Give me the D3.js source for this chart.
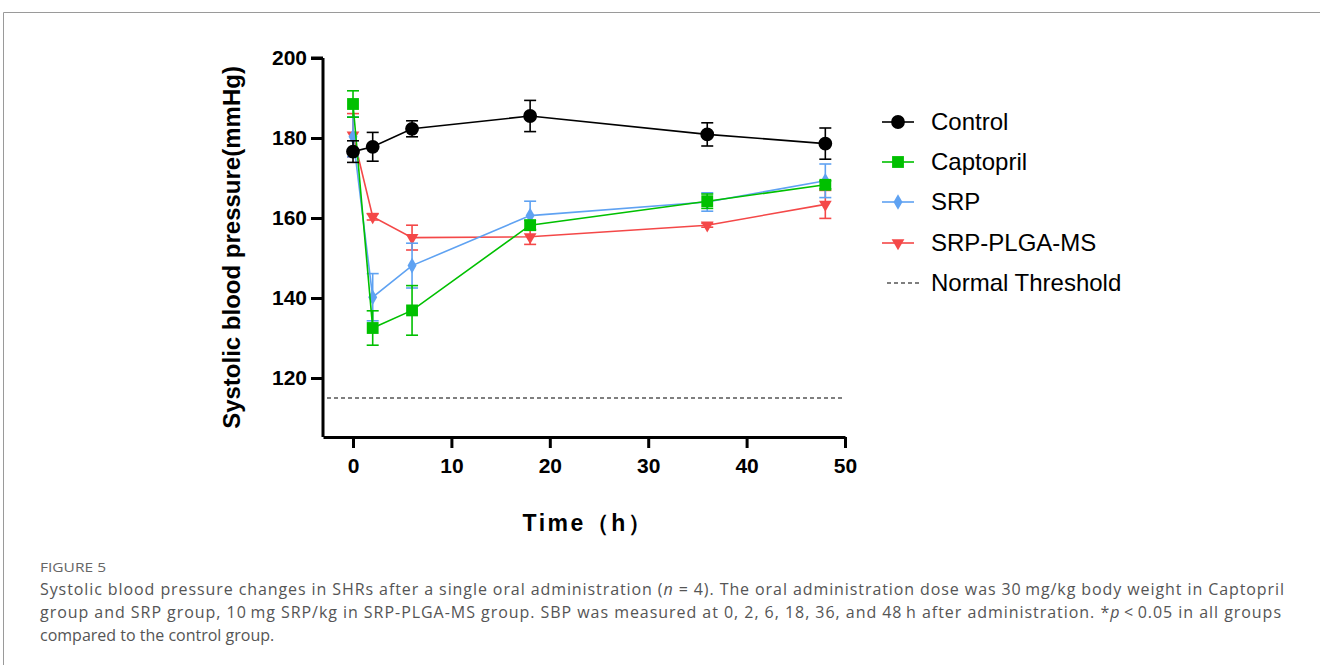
<!DOCTYPE html>
<html>
<head>
<meta charset="utf-8">
<script src="https://cdn.jsdelivr.net/npm/d3@7"></script>
<style>
  body { margin: 0; background: #fff; }
  svg { display: block; }
</style>
</head>
<body>
<svg id="chart" width="1320" height="665"></svg>
<script>
// time points (h) and group means / SD
const hours = [0, 2, 6, 18, 36, 48];
const groups = ["Control", "Captopril", "SRP", "SRP-PLGA-MS"];
const controlMean = [176.6, 177.8, 182.3, 185.5, 180.9, 178.6];
const controlErr  = [2.7, 3.6, 2.0, 3.9, 2.9, 3.9];
const captoMean   = [188.5, 132.5, 136.9, 158.2, 164.2, 168.3];
const captoErr    = [3.3, 4.3, 6.2, 1.2, 1.8, 1.0];
const srpMean     = [180.3, 140.2, 148.1, 160.6, 164.0, 169.3];
const srpErr      = [5.0, 5.9, 5.6, 3.6, 2.3, 4.2];
const plgaMean    = [180.7, 160.3, 155.1, 155.3, 158.2, 163.4];
const plgaErr     = [5.4, 0.8, 3.1, 1.9, 0.5, 3.5];
const threshold = 115;
const yTicks = [120, 140, 160, 180, 200];
const xTicks = [0, 10, 20, 30, 40, 50];

const series = [
  { name: groups[0], mean: controlMean, err: controlErr, color: "#000000", shape: "circle" },
  { name: groups[1], mean: captoMean,   err: captoErr,   color: "#00c000", shape: "square" },
  { name: groups[2], mean: srpMean,     err: srpErr,     color: "#5fa2f2", shape: "diamond" },
  { name: groups[3], mean: plgaMean,    err: plgaErr,    color: "#f44848", shape: "triangle" }
];

const svg = d3.select("#chart");

// page frame
svg.append("path")
  .attr("d", "M1320,12.5 H3.5 V665")
  .attr("fill", "none").attr("stroke", "#9a9a9a").attr("stroke-width", 1);

const x = d3.scaleLinear().domain([-3.05, 50]).range([323, 845]);
const y = d3.scaleLinear().domain([105.25, 200]).range([437, 58]);

const axisFont = "'Liberation Sans', Arial, sans-serif";

// axes
const gx = svg.append("g").attr("transform", "translate(0,437)")
  .call(d3.axisBottom(x).tickValues(xTicks).tickSize(11).tickSizeOuter(0).tickPadding(10));
const gy = svg.append("g").attr("transform", "translate(323,0)")
  .call(d3.axisLeft(y).tickValues(yTicks).tickSize(12).tickSizeOuter(0).tickPadding(4));
[gx, gy].forEach(g => {
  g.select(".domain").attr("stroke", "#000").attr("stroke-width", 3);
  g.selectAll(".tick line").attr("stroke", "#000").attr("stroke-width", 3);
  g.selectAll(".tick text").attr("fill", "#000")
    .style("font-family", axisFont).style("font-size", "21px").style("font-weight", "bold");
});
// y axis line spans the full height
gy.select(".domain").attr("d", `M0,${y(200)}V${y(105.25)}`);
gy.append("line").attr("x1", 0).attr("x2", -12).attr("y1", y(200)).attr("y2", y(200))
  .attr("stroke", "#000").attr("stroke-width", 3);

svg.append("text")
  .attr("transform", `translate(240,${(y(200) + y(105.25)) / 2}) rotate(-90)`)
  .attr("text-anchor", "middle")
  .style("font-family", axisFont).style("font-size", "24px").style("font-weight", "bold")
  .text("Systolic blood pressure(mmHg)");

svg.append("text")
  .attr("x", 588).attr("y", 531)
  .attr("text-anchor", "middle")
  .style("font-family", axisFont).style("font-size", "23px").style("font-weight", "bold")
  .style("letter-spacing", "2.5px")
  .text("Time（h）");

// normal threshold
svg.append("line")
  .attr("x1", x(-3.05) + 4).attr("x2", x(50)).attr("y1", y(threshold)).attr("y2", y(threshold))
  .attr("stroke", "#000").attr("stroke-width", 1.2).attr("stroke-dasharray", "4,3");

const symbolType = {
  circle: d3.symbolCircle, square: d3.symbolSquare,
  diamond: d3.symbolDiamond, triangle: d3.symbolTriangle
};
const symbolSize = { circle: 150, square: 140, diamond: 70, triangle: 70 };

function marker(g, s, cx, cy) {
  g.append("path")
    .attr("d", d3.symbol(symbolType[s.shape], symbolSize[s.shape])())
    .attr("transform", `translate(${cx},${cy})` + (s.shape === "triangle" ? " rotate(180)" : ""))
    .attr("fill", s.color);
}

const line = d3.line().x(d => x(d.t)).y(d => y(d.v));

// draw back to front
[series[3], series[2], series[1], series[0]].forEach(s => {
  const pts = hours.map((t, i) => ({ t, v: s.mean[i], e: s.err[i] }));
  const g = svg.append("g");
  pts.forEach(p => {
    const cx = x(p.t), y0 = y(p.v - p.e), y1 = y(p.v + p.e);
    g.append("line").attr("x1", cx).attr("x2", cx).attr("y1", y0).attr("y2", y1)
      .attr("stroke", s.color).attr("stroke-width", 1.6);
    [y0, y1].forEach(yy => g.append("line")
      .attr("x1", cx - 6).attr("x2", cx + 6).attr("y1", yy).attr("y2", yy)
      .attr("stroke", s.color).attr("stroke-width", 1.6));
  });
  g.append("path").datum(pts).attr("d", line)
    .attr("fill", "none").attr("stroke", s.color).attr("stroke-width", 1.6);
  pts.forEach(p => marker(g, s, x(p.t), y(p.v)));
});

// legend
const legFont = "'Liberation Sans', Arial, sans-serif";
const legY = [122, 162, 202, 243];
series.forEach((s, i) => {
  const g = svg.append("g").attr("transform", `translate(0,${legY[i]})`);
  g.append("line").attr("x1", 882).attr("x2", 914).attr("y1", 0).attr("y2", 0)
    .attr("stroke", s.color).attr("stroke-width", 1.6);
  marker(g, s, 898, 0);
  g.append("text").attr("x", 931).attr("y", 0).attr("dy", "0.35em")
    .style("font-family", legFont).style("font-size", "24px").text(s.name);
});
svg.append("line").attr("x1", 887).attr("x2", 920).attr("y1", 283).attr("y2", 283)
  .attr("stroke", "#000").attr("stroke-width", 1.2).attr("stroke-dasharray", "4,3");
svg.append("text").attr("x", 931).attr("y", 283).attr("dy", "0.35em")
  .style("font-family", legFont).style("font-size", "24px").text("Normal Threshold");

// caption
const capFont = "'Open Sans', 'Noto Sans', sans-serif";
svg.append("text").attr("x", 40).attr("y", 572)
  .style("font-family", capFont).style("font-size", "12.5px").attr("fill", "#666")
  .attr("textLength", 66).attr("lengthAdjust", "spacingAndGlyphs")
  .text("FIGURE 5");
const capLines = [
  ["Systolic blood pressure changes in SHRs after a single oral administration (", "n", " = 4). The oral administration dose was 30\u2009mg/kg body weight in Captopril"],
  ["group and SRP group, 10\u2009mg SRP/kg in SRP-PLGA-MS group. SBP was measured at 0, 2, 6, 18, 36, and 48\u2009h after administration. *", "p", "\u2009<\u20090.05 in all groups"],
  ["compared to the control group."]
];
const capW = [1244, 1241, null];
capLines.forEach((parts, i) => {
  const t = svg.append("text").attr("x", 40).attr("y", 595 + i * 23)
    .style("font-family", capFont).style("font-size", "16px").attr("fill", "#555");
  parts.forEach((p, j) => {
    t.append("tspan").style("font-style", j % 2 === 1 ? "italic" : "normal").text(p);
  });
  if (capW[i]) t.attr("textLength", capW[i]).attr("lengthAdjust", "spacing");
});
</script>
</body>
</html>
